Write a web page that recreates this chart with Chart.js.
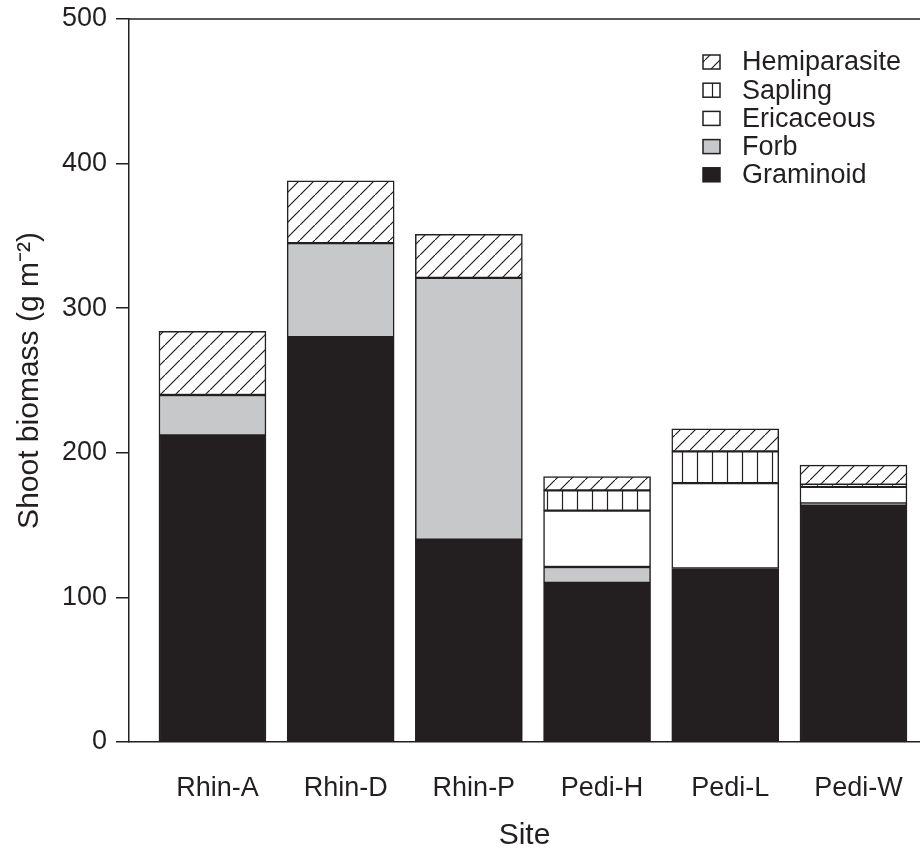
<!DOCTYPE html>
<html>
<head>
<meta charset="utf-8">
<title>Shoot biomass by site</title>
<script src="https://cdn.jsdelivr.net/npm/chart.js@4.4.0/dist/chart.umd.min.js"></script>
<style>
  html, body { margin: 0; padding: 0; background: #fff; }
  #wrap { width: 920px; height: 854px; }
</style>
</head>
<body>
<div id="wrap"><canvas id="biomass" width="920" height="854"></canvas></div>
<script>
// Data (g m-2)
const sites = ['Rhin-A', 'Rhin-D', 'Rhin-P', 'Pedi-H', 'Pedi-L', 'Pedi-W'];
const graminoid = [212, 280, 140, 110, 120, 164];
const forb = [28, 65, 181, 11, null, 1];
const ericaceous = [null, null, null, 39, 59, 11.5];
const sapling = [null, null, null, 14, 22, 1.5];
const hemiparasite = [44, 43, 30, 9.5, 15.5, 13.5];
const yTicks = [0, 100, 200, 300, 400, 500];

const INK = '#231f20';
const FONT = "'Liberation Sans', Arial, Helvetica, sans-serif";

// Fill patterns for hatched segments
function makePattern(kind) {
  const size = 15;
  const c = document.createElement('canvas');
  c.width = size;
  c.height = size;
  const g = c.getContext('2d');
  g.fillStyle = '#fff';
  g.fillRect(0, 0, size, size);
  g.strokeStyle = INK;
  g.lineWidth = 1.2;
  g.beginPath();
  if (kind === 'diag') {
    g.moveTo(-1, size + 1); g.lineTo(size + 1, -1);
    g.moveTo(-2, 1); g.lineTo(1, -2);
    g.moveTo(size - 1, size + 2); g.lineTo(size + 2, size - 1);
  } else {
    g.moveTo(size / 2, 0); g.lineTo(size / 2, size);
  }
  g.stroke();
  return g.createPattern(c, 'repeat');
}

function toPoints(arr) {
  return arr.map((v, i) => ({ x: i, y: v }));
}

const datasets = [
  { label: 'Graminoid', data: toPoints(graminoid), backgroundColor: INK },
  { label: 'Forb', data: toPoints(forb), backgroundColor: '#c6c8ca' },
  { label: 'Ericaceous', data: toPoints(ericaceous), backgroundColor: '#ffffff' },
  { label: 'Sapling', data: toPoints(sapling), backgroundColor: makePattern('vert') },
  { label: 'Hemiparasite', data: toPoints(hemiparasite), backgroundColor: makePattern('diag') }
].map(d => Object.assign(d, {
  borderColor: INK,
  borderWidth: 1.5,
  borderSkipped: false,
  barThickness: 107
}));

// Legend drawn inside the plot, top right, reversed order
const insideLegend = {
  id: 'insideLegend',
  afterDraw(chart) {
    const ctx = chart.ctx;
    const items = chart.data.datasets.slice().reverse();
    ctx.save();
    ctx.font = '27px ' + FONT;
    ctx.textBaseline = 'middle';
    ctx.textAlign = 'left';
    items.forEach((ds, i) => {
      const cy = 62 + i * 28.2;
      ctx.fillStyle = ds.backgroundColor;
      ctx.fillRect(703, cy - 7, 17, 14);
      ctx.strokeStyle = INK;
      ctx.lineWidth = 1.5;
      ctx.strokeRect(703, cy - 7, 17, 14);
      ctx.fillStyle = INK;
      ctx.fillText(ds.label, 742, cy + 1);
    });
    ctx.restore();
  }
};

// Top frame line of the plot
const topFrame = {
  id: 'topFrame',
  afterDatasetsDraw(chart) {
    const { ctx, chartArea } = chart;
    ctx.save();
    ctx.strokeStyle = INK;
    ctx.lineWidth = 1.5;
    ctx.beginPath();
    ctx.moveTo(chartArea.left, chartArea.top);
    ctx.lineTo(chartArea.right, chartArea.top);
    ctx.stroke();
    ctx.restore();
  }
};

new Chart(document.getElementById('biomass').getContext('2d'), {
  type: 'bar',
  data: { datasets: datasets },
  plugins: [insideLegend, topFrame],
  options: {
    responsive: false,
    animation: false,
    layout: { padding: { top: 19, right: 0, bottom: 0, left: 0 } },
    plugins: {
      legend: { display: false },
      tooltip: { enabled: false }
    },
    scales: {
      x: {
        type: 'linear',
        stacked: true,
        offset: false,
        min: -0.651,
        max: 5.519,
        afterBuildTicks: scale => { scale.ticks = sites.map((s, i) => ({ value: i })); },
        afterFit: scale => {
          scale.height = 112;
          scale.paddingLeft = 0;
          scale.paddingRight = 0;
        },
        ticks: {
          callback: v => sites[v],
          color: INK,
          font: { family: FONT, size: 27 },
          padding: 30,
          labelOffset: 5,
          maxRotation: 0,
          autoSkip: false
        },
        grid: { display: false, drawTicks: false, offset: false },
        border: { display: true, color: INK, width: 1.5 },
        title: {
          display: true,
          text: 'Site',
          color: INK,
          font: { family: FONT, size: 30 },
          padding: { top: 0, bottom: 0 }
        }
      },
      y: {
        stacked: true,
        min: 0,
        max: 500,
        afterBuildTicks: scale => { scale.ticks = yTicks.map(v => ({ value: v })); },
        afterFit: scale => {
          scale.width = 129;
          scale.paddingTop = 0;
          scale.paddingBottom = 0;
        },
        ticks: {
          color: INK,
          font: { family: FONT, size: 27 },
          padding: 9
        },
        grid: {
          drawOnChartArea: false,
          tickLength: 13,
          color: INK,
          lineWidth: 1.5
        },
        border: { display: true, color: INK, width: 1.5 },
        title: {
          display: true,
          text: 'Shoot biomass (g m\u207B\u00B2)',
          color: INK,
          font: { family: FONT, size: 30 },
          padding: { top: 12, bottom: 0 }
        }
      }
    }
  }
});
</script>
</body>
</html>
